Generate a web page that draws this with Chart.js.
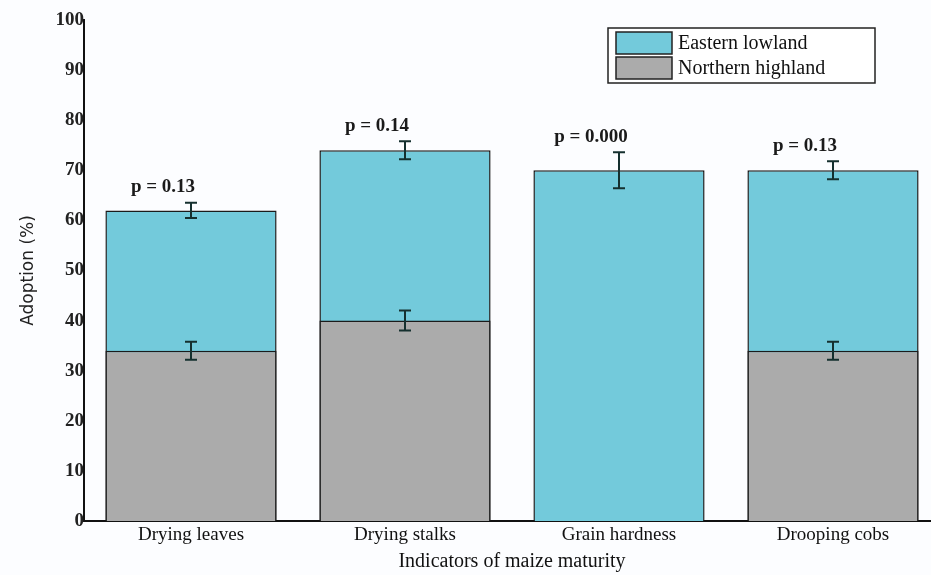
<!DOCTYPE html>
<html lang="en">
<head>
    <meta charset="UTF-8">
    <title>Adoption of maize maturity indicators</title>
    <script src="https://cdn.jsdelivr.net/npm/chart.js"></script>
    <style>
        html, body { margin: 0; padding: 0; background: #fcfdff; overflow: hidden; }
        #wrap { width: 945px; height: 575px; }
    </style>
</head>
<body>
<div id="wrap"><canvas id="chart"></canvas></div>
<script>
    // data
    const categories = ['Drying leaves', 'Drying stalks', 'Grain hardness', 'Drooping cobs'];
    const eastern = [62, 74, 70, 70];
    const easternErr = [1.5, 1.8, 3.6, 1.8];
    const northern = [34, 40, null, 34];
    const northernErr = [1.8, 2.0, null, 1.8];
    const pLabels = ['p = 0.13', 'p = 0.14', 'p = 0.000', 'p = 0.13'];
    const yTicks = [0, 10, 20, 30, 40, 50, 60, 70, 80, 90, 100];

    const cyan = '#73cadb';
    const grey = '#ababab';
    const serif = '"Liberation Serif", "DejaVu Serif", serif';

    // error bars + p-value labels
    const extras = {
        id: 'extras',
        afterDatasetsDraw(chart) {
            const ctx = chart.ctx;
            const x = chart.scales.x, y = chart.scales.y;
            const sets = [[eastern, easternErr], [northern, northernErr]];
            ctx.save();
            ctx.strokeStyle = '#15302f';
            ctx.lineWidth = 2;
            sets.forEach(([vals, errs]) => {
                vals.forEach((v, i) => {
                    if (v == null) return;
                    const cx = x.getPixelForValue(i);
                    const top = y.getPixelForValue(v + errs[i]);
                    const bot = y.getPixelForValue(v - errs[i]);
                    ctx.beginPath();
                    ctx.moveTo(cx, top); ctx.lineTo(cx, bot);
                    ctx.moveTo(cx - 6, top); ctx.lineTo(cx + 6, top);
                    ctx.moveTo(cx - 6, bot); ctx.lineTo(cx + 6, bot);
                    ctx.stroke();
                });
            });
            ctx.fillStyle = '#1a1a1a';
            ctx.font = 'bold 19px ' + serif;
            ctx.textAlign = 'center';
            ctx.textBaseline = 'bottom';
            pLabels.forEach((t, i) => {
                const cx = x.getPixelForValue(i) - 28;
                const top = y.getPixelForValue(eastern[i] + easternErr[i]);
                ctx.fillText(t, cx, top - 6);
            });
            ctx.restore();
        }
    };

    // boxed legend, top right
    const boxLegend = {
        id: 'boxLegend',
        afterDraw(chart) {
            const ctx = chart.ctx;
            const items = [['Eastern lowland', cyan], ['Northern highland', grey]];
            const bx = 608, by = 28, bw = 267, bh = 55;
            ctx.save();
            ctx.fillStyle = '#ffffff';
            ctx.fillRect(bx, by, bw, bh);
            ctx.strokeStyle = '#222';
            ctx.lineWidth = 1.5;
            ctx.strokeRect(bx, by, bw, bh);
            ctx.font = '20px ' + serif;
            ctx.textBaseline = 'middle';
            items.forEach(([label, col], i) => {
                const ry = by + 4 + i * 25;
                ctx.fillStyle = col;
                ctx.fillRect(bx + 8, ry, 56, 22);
                ctx.strokeRect(bx + 8, ry, 56, 22);
                ctx.fillStyle = '#111';
                ctx.fillText(label, bx + 70, ry + 12);
            });
            ctx.restore();
        }
    };

    new Chart(document.getElementById('chart'), {
        type: 'bar',
        data: {
            labels: categories,
            datasets: [
                {
                    label: 'Northern highland',
                    data: northern,
                    backgroundColor: grey,
                    borderColor: '#1b1b1b',
                    borderWidth: 1.5,
                    grouped: false,
                    barPercentage: 0.8,
                    categoryPercentage: 1
                },
                {
                    label: 'Eastern lowland',
                    data: eastern,
                    backgroundColor: cyan,
                    borderColor: '#1b1b1b',
                    borderWidth: 1.5,
                    grouped: false,
                    barPercentage: 0.8,
                    categoryPercentage: 1
                }
            ]
        },
        options: {
            responsive: true,
            maintainAspectRatio: false,
            animation: false,
            layout: { padding: { top: 20, right: 5, left: 0, bottom: 0 } },
            plugins: {
                legend: { display: false },
                tooltip: { enabled: false }
            },
            scales: {
                x: {
                    grid: { display: false, drawTicks: false },
                    border: { color: '#111', width: 2 },
                    ticks: { color: '#111', font: { family: serif, size: 19 }, padding: 3 },
                    title: {
                        display: true,
                        text: 'Indicators of maize maturity',
                        color: '#111',
                        font: { family: serif, size: 20 },
                        padding: { top: 2, bottom: 1 }
                    },
                    afterFit(s) { s.height = 54; }
                },
                y: {
                    min: 0,
                    max: 100,
                    afterBuildTicks(s) { s.ticks = yTicks.map(v => ({ value: v })); },
                    grid: { display: false, drawTicks: false },
                    border: { color: '#111', width: 2 },
                    ticks: { color: '#222', font: { family: serif, size: 19, weight: 'bold' }, padding: 0 },
                    title: {
                        display: true,
                        text: 'Adoption (%)',
                        color: '#222',
                        font: { family: '"DejaVu Sans", Verdana, sans-serif', size: 17 },
                        padding: { top: 18, bottom: 10 }
                    },
                    afterFit(s) { s.width = 84; }
                }
            }
        },
        plugins: [extras, boxLegend]
    });
</script>
</body>
</html>
